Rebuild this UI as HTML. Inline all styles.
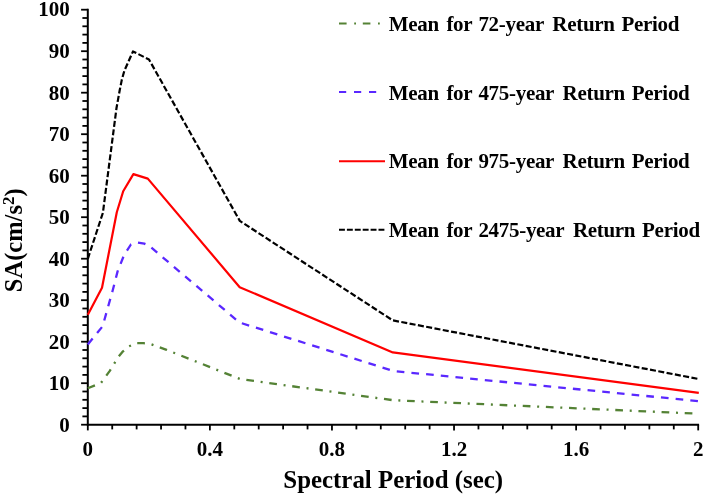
<!DOCTYPE html>
<html><head><meta charset="utf-8"><title>Spectral acceleration chart</title>
<style>
html,body{margin:0;padding:0;background:#fff;}
svg{display:block;will-change:transform;filter:blur(0.4px);}
.t{font-family:"Liberation Serif",serif;font-weight:bold;font-size:21px;fill:#000;}
.a{font-family:"Liberation Serif",serif;font-weight:bold;font-size:24.5px;fill:#000;}
</style></head><body>
<svg width="705" height="496" viewBox="0 0 705 496">
<rect width="705" height="496" fill="#fff"/>
<line x1="87.8" y1="8.80" x2="87.8" y2="425.60" stroke="#000" stroke-width="2.0"/>
<line x1="86.90" y1="424.7" x2="699.10" y2="424.7" stroke="#000" stroke-width="2.0"/>
<line x1="81.10" y1="424.70" x2="87.8" y2="424.70" stroke="#000" stroke-width="1.8"/>
<line x1="82.40" y1="416.40" x2="87.8" y2="416.40" stroke="#000" stroke-width="1.8"/>
<line x1="82.40" y1="408.10" x2="87.8" y2="408.10" stroke="#000" stroke-width="1.8"/>
<line x1="82.40" y1="399.80" x2="87.8" y2="399.80" stroke="#000" stroke-width="1.8"/>
<line x1="82.40" y1="391.50" x2="87.8" y2="391.50" stroke="#000" stroke-width="1.8"/>
<line x1="81.10" y1="383.20" x2="87.8" y2="383.20" stroke="#000" stroke-width="1.8"/>
<line x1="82.40" y1="374.90" x2="87.8" y2="374.90" stroke="#000" stroke-width="1.8"/>
<line x1="82.40" y1="366.60" x2="87.8" y2="366.60" stroke="#000" stroke-width="1.8"/>
<line x1="82.40" y1="358.30" x2="87.8" y2="358.30" stroke="#000" stroke-width="1.8"/>
<line x1="82.40" y1="350.00" x2="87.8" y2="350.00" stroke="#000" stroke-width="1.8"/>
<line x1="81.10" y1="341.70" x2="87.8" y2="341.70" stroke="#000" stroke-width="1.8"/>
<line x1="82.40" y1="333.40" x2="87.8" y2="333.40" stroke="#000" stroke-width="1.8"/>
<line x1="82.40" y1="325.10" x2="87.8" y2="325.10" stroke="#000" stroke-width="1.8"/>
<line x1="82.40" y1="316.80" x2="87.8" y2="316.80" stroke="#000" stroke-width="1.8"/>
<line x1="82.40" y1="308.50" x2="87.8" y2="308.50" stroke="#000" stroke-width="1.8"/>
<line x1="81.10" y1="300.20" x2="87.8" y2="300.20" stroke="#000" stroke-width="1.8"/>
<line x1="82.40" y1="291.90" x2="87.8" y2="291.90" stroke="#000" stroke-width="1.8"/>
<line x1="82.40" y1="283.60" x2="87.8" y2="283.60" stroke="#000" stroke-width="1.8"/>
<line x1="82.40" y1="275.30" x2="87.8" y2="275.30" stroke="#000" stroke-width="1.8"/>
<line x1="82.40" y1="267.00" x2="87.8" y2="267.00" stroke="#000" stroke-width="1.8"/>
<line x1="81.10" y1="258.70" x2="87.8" y2="258.70" stroke="#000" stroke-width="1.8"/>
<line x1="82.40" y1="250.40" x2="87.8" y2="250.40" stroke="#000" stroke-width="1.8"/>
<line x1="82.40" y1="242.10" x2="87.8" y2="242.10" stroke="#000" stroke-width="1.8"/>
<line x1="82.40" y1="233.80" x2="87.8" y2="233.80" stroke="#000" stroke-width="1.8"/>
<line x1="82.40" y1="225.50" x2="87.8" y2="225.50" stroke="#000" stroke-width="1.8"/>
<line x1="81.10" y1="217.20" x2="87.8" y2="217.20" stroke="#000" stroke-width="1.8"/>
<line x1="82.40" y1="208.90" x2="87.8" y2="208.90" stroke="#000" stroke-width="1.8"/>
<line x1="82.40" y1="200.60" x2="87.8" y2="200.60" stroke="#000" stroke-width="1.8"/>
<line x1="82.40" y1="192.30" x2="87.8" y2="192.30" stroke="#000" stroke-width="1.8"/>
<line x1="82.40" y1="184.00" x2="87.8" y2="184.00" stroke="#000" stroke-width="1.8"/>
<line x1="81.10" y1="175.70" x2="87.8" y2="175.70" stroke="#000" stroke-width="1.8"/>
<line x1="82.40" y1="167.40" x2="87.8" y2="167.40" stroke="#000" stroke-width="1.8"/>
<line x1="82.40" y1="159.10" x2="87.8" y2="159.10" stroke="#000" stroke-width="1.8"/>
<line x1="82.40" y1="150.80" x2="87.8" y2="150.80" stroke="#000" stroke-width="1.8"/>
<line x1="82.40" y1="142.50" x2="87.8" y2="142.50" stroke="#000" stroke-width="1.8"/>
<line x1="81.10" y1="134.20" x2="87.8" y2="134.20" stroke="#000" stroke-width="1.8"/>
<line x1="82.40" y1="125.90" x2="87.8" y2="125.90" stroke="#000" stroke-width="1.8"/>
<line x1="82.40" y1="117.60" x2="87.8" y2="117.60" stroke="#000" stroke-width="1.8"/>
<line x1="82.40" y1="109.30" x2="87.8" y2="109.30" stroke="#000" stroke-width="1.8"/>
<line x1="82.40" y1="101.00" x2="87.8" y2="101.00" stroke="#000" stroke-width="1.8"/>
<line x1="81.10" y1="92.70" x2="87.8" y2="92.70" stroke="#000" stroke-width="1.8"/>
<line x1="82.40" y1="84.40" x2="87.8" y2="84.40" stroke="#000" stroke-width="1.8"/>
<line x1="82.40" y1="76.10" x2="87.8" y2="76.10" stroke="#000" stroke-width="1.8"/>
<line x1="82.40" y1="67.80" x2="87.8" y2="67.80" stroke="#000" stroke-width="1.8"/>
<line x1="82.40" y1="59.50" x2="87.8" y2="59.50" stroke="#000" stroke-width="1.8"/>
<line x1="81.10" y1="51.20" x2="87.8" y2="51.20" stroke="#000" stroke-width="1.8"/>
<line x1="82.40" y1="42.90" x2="87.8" y2="42.90" stroke="#000" stroke-width="1.8"/>
<line x1="82.40" y1="34.60" x2="87.8" y2="34.60" stroke="#000" stroke-width="1.8"/>
<line x1="82.40" y1="26.30" x2="87.8" y2="26.30" stroke="#000" stroke-width="1.8"/>
<line x1="82.40" y1="18.00" x2="87.8" y2="18.00" stroke="#000" stroke-width="1.8"/>
<line x1="81.10" y1="9.70" x2="87.8" y2="9.70" stroke="#000" stroke-width="1.8"/>
<line x1="87.80" y1="424.7" x2="87.80" y2="430.40" stroke="#000" stroke-width="1.8"/>
<line x1="112.22" y1="424.7" x2="112.22" y2="429.40" stroke="#000" stroke-width="1.8"/>
<line x1="136.63" y1="424.7" x2="136.63" y2="429.40" stroke="#000" stroke-width="1.8"/>
<line x1="161.05" y1="424.7" x2="161.05" y2="429.40" stroke="#000" stroke-width="1.8"/>
<line x1="185.46" y1="424.7" x2="185.46" y2="429.40" stroke="#000" stroke-width="1.8"/>
<line x1="209.88" y1="424.7" x2="209.88" y2="430.40" stroke="#000" stroke-width="1.8"/>
<line x1="234.30" y1="424.7" x2="234.30" y2="429.40" stroke="#000" stroke-width="1.8"/>
<line x1="258.71" y1="424.7" x2="258.71" y2="429.40" stroke="#000" stroke-width="1.8"/>
<line x1="283.13" y1="424.7" x2="283.13" y2="429.40" stroke="#000" stroke-width="1.8"/>
<line x1="307.54" y1="424.7" x2="307.54" y2="429.40" stroke="#000" stroke-width="1.8"/>
<line x1="331.96" y1="424.7" x2="331.96" y2="430.40" stroke="#000" stroke-width="1.8"/>
<line x1="356.38" y1="424.7" x2="356.38" y2="429.40" stroke="#000" stroke-width="1.8"/>
<line x1="380.79" y1="424.7" x2="380.79" y2="429.40" stroke="#000" stroke-width="1.8"/>
<line x1="405.21" y1="424.7" x2="405.21" y2="429.40" stroke="#000" stroke-width="1.8"/>
<line x1="429.62" y1="424.7" x2="429.62" y2="429.40" stroke="#000" stroke-width="1.8"/>
<line x1="454.04" y1="424.7" x2="454.04" y2="430.40" stroke="#000" stroke-width="1.8"/>
<line x1="478.46" y1="424.7" x2="478.46" y2="429.40" stroke="#000" stroke-width="1.8"/>
<line x1="502.87" y1="424.7" x2="502.87" y2="429.40" stroke="#000" stroke-width="1.8"/>
<line x1="527.29" y1="424.7" x2="527.29" y2="429.40" stroke="#000" stroke-width="1.8"/>
<line x1="551.70" y1="424.7" x2="551.70" y2="429.40" stroke="#000" stroke-width="1.8"/>
<line x1="576.12" y1="424.7" x2="576.12" y2="430.40" stroke="#000" stroke-width="1.8"/>
<line x1="600.54" y1="424.7" x2="600.54" y2="429.40" stroke="#000" stroke-width="1.8"/>
<line x1="624.95" y1="424.7" x2="624.95" y2="429.40" stroke="#000" stroke-width="1.8"/>
<line x1="649.37" y1="424.7" x2="649.37" y2="429.40" stroke="#000" stroke-width="1.8"/>
<line x1="673.78" y1="424.7" x2="673.78" y2="429.40" stroke="#000" stroke-width="1.8"/>
<line x1="698.20" y1="424.7" x2="698.20" y2="430.40" stroke="#000" stroke-width="1.8"/>
<text x="69.8" y="431.70" text-anchor="end" class="t">0</text>
<text x="69.8" y="390.20" text-anchor="end" class="t">10</text>
<text x="69.8" y="348.70" text-anchor="end" class="t">20</text>
<text x="69.8" y="307.20" text-anchor="end" class="t">30</text>
<text x="69.8" y="265.70" text-anchor="end" class="t">40</text>
<text x="69.8" y="224.20" text-anchor="end" class="t">50</text>
<text x="69.8" y="182.70" text-anchor="end" class="t">60</text>
<text x="69.8" y="141.20" text-anchor="end" class="t">70</text>
<text x="69.8" y="99.70" text-anchor="end" class="t">80</text>
<text x="69.8" y="58.20" text-anchor="end" class="t">90</text>
<text x="69.8" y="16.10" text-anchor="end" class="t">100</text>
<text x="87.80" y="456.2" text-anchor="middle" class="t">0</text>
<text x="209.88" y="456.2" text-anchor="middle" class="t">0.4</text>
<text x="331.96" y="456.2" text-anchor="middle" class="t">0.8</text>
<text x="454.04" y="456.2" text-anchor="middle" class="t">1.2</text>
<text x="576.12" y="456.2" text-anchor="middle" class="t">1.6</text>
<text x="698.20" y="456.2" text-anchor="middle" class="t">2</text>
<polyline points="87.8,388.2 101.0,382.9 109.8,370.9 118.3,357.0 123.0,351.3 129.0,346.3 136.1,343.2 143.2,343.2 151.0,344.2 165.9,349.6 240.0,379.0 393.0,400.2 698.8,413.7" fill="none" stroke="#548235" stroke-width="2.3" stroke-dasharray="7.7 6.73 2 6.73" stroke-linejoin="round"/>
<polyline points="87.8,344.5 102.6,326.3 112.8,290.0 117.6,271.4 123.3,257.0 126.7,251.0 130.9,244.5 136.5,242.3 144.3,243.6 148.8,245.5 239.5,322.5 393.5,371.0 698.8,401.2" fill="none" stroke="#5a28ff" stroke-width="2.3" stroke-dasharray="7.65 7.1" stroke-linejoin="round"/>
<polyline points="87.8,314.7 102.0,287.7 116.8,212.3 123.2,191.2 133.4,174.1 147.8,178.6 239.7,287.2 392.8,352.4 698.8,392.9" fill="none" stroke="#ff0000" stroke-width="2.2" stroke-linejoin="round"/>
<polyline points="87.8,258.8 102.9,212.8 116.5,108.0 119.8,89.8 121.8,79.9 124.3,70.9 133.0,51.4 149.0,59.5 239.8,220.9 392.8,320.4 698.8,379.0" fill="none" stroke="#000" stroke-width="2.2" stroke-dasharray="6.03 2.41" stroke-linejoin="round"/>
<line x1="339" y1="23.5" x2="385" y2="23.5" stroke="#548235" stroke-width="1.8" stroke-dasharray="7.6 7.6 1.8 6.8"/>
<text y="30.8" class="t" style="letter-spacing:-0.3px"><tspan x="388.7">Mean </tspan><tspan x="446.4">for </tspan><tspan x="478.4">72-year </tspan><tspan x="552.3">Return </tspan><tspan x="621.5">Period</tspan></text>
<line x1="339" y1="92.1" x2="382" y2="92.1" stroke="#5a28ff" stroke-width="2.0" stroke-dasharray="7.2 7.8"/>
<text y="99.5" class="t" style="letter-spacing:-0.3px"><tspan x="388.7">Mean </tspan><tspan x="446.4">for </tspan><tspan x="478.4">475-year </tspan><tspan x="562.6">Return </tspan><tspan x="631.8">Period</tspan></text>
<line x1="339" y1="161.3" x2="385" y2="161.3" stroke="#ff0000" stroke-width="2.0"/>
<text y="168.2" class="t" style="letter-spacing:-0.3px"><tspan x="388.7">Mean </tspan><tspan x="446.4">for </tspan><tspan x="478.4">975-year </tspan><tspan x="562.6">Return </tspan><tspan x="631.8">Period</tspan></text>
<line x1="339" y1="229.8" x2="385" y2="229.8" stroke="#000" stroke-width="1.9" stroke-dasharray="5.9 2"/>
<text y="236.8" class="t" style="letter-spacing:-0.3px"><tspan x="388.7">Mean </tspan><tspan x="446.4">for </tspan><tspan x="478.4">2475-year </tspan><tspan x="572.9">Return </tspan><tspan x="642.1">Period</tspan></text>
<text x="393.2" y="488.2" text-anchor="middle" class="a" style="font-size:24.9px">Spectral Period (sec)</text>
<text transform="translate(21.5,240.3) rotate(-90)" text-anchor="middle" class="a">SA(cm/s<tspan dy="-8" font-size="17">2</tspan><tspan dy="8">)</tspan></text>
</svg>
</body></html>
